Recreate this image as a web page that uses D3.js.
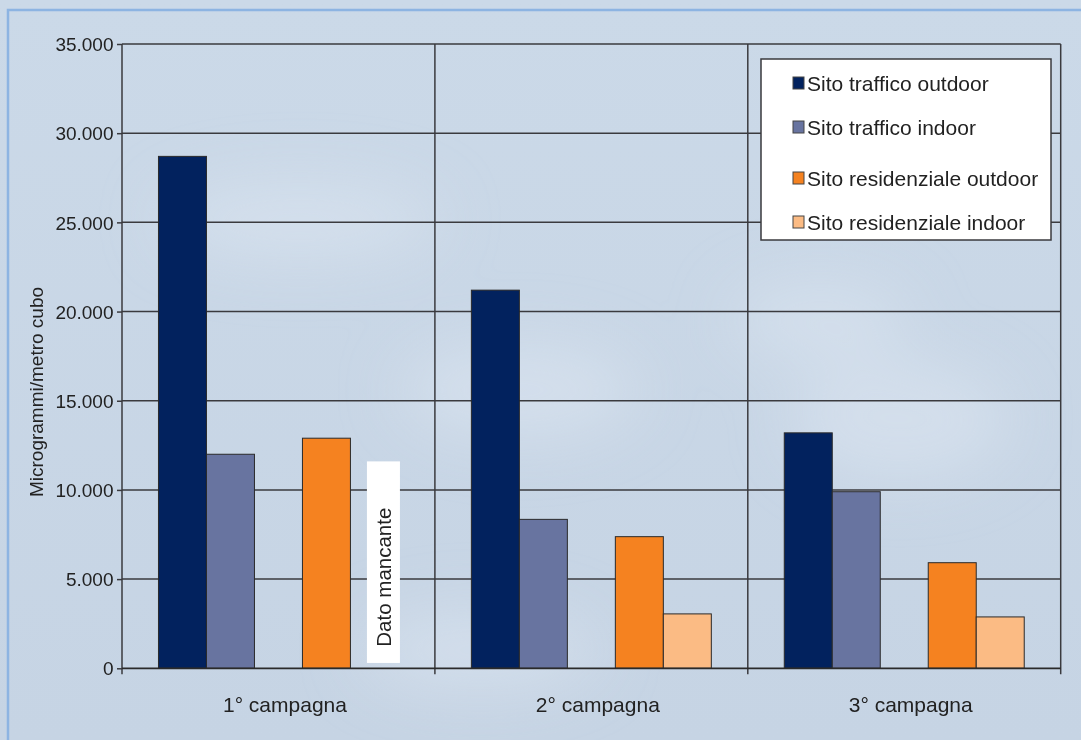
<!DOCTYPE html>
<html>
<head>
<meta charset="utf-8">
<script src="https://cdn.jsdelivr.net/npm/d3@7"></script>
<style>
  html, body { margin: 0; padding: 0; background: #c8d6e6; }
  svg { display: block; font-family: "Liberation Sans", Arial, sans-serif; }
</style>
</head>
<body>
<svg id="chart" width="1081" height="740"></svg>
<script>
// ---- data ----
const categories = ["1° campagna", "2° campagna", "3° campagna"];
const seriesNames = ["Sito traffico outdoor", "Sito traffico indoor", "Sito residenziale outdoor", "Sito residenziale indoor"];
const seriesColors = ["#02225e", "#6874a0", "#f58220", "#fbbb84"];
const trafficoOutdoor = [28700, 21200, 13200];
const trafficoIndoor = [12000, 8350, 9900];
const residenzialeOutdoor = [12900, 7380, 5920];
const residenzialeIndoor = [null, 3050, 2880];
const seriesValues = [trafficoOutdoor, trafficoIndoor, residenzialeOutdoor, residenzialeIndoor];
// slots within a group: an empty slot separates traffic and residential sites
const slots = ["s0", "s1", "gap", "s2", "s3"];
const seriesSlot = ["s0", "s1", "s2", "s3"];
const yTicks = [0, 5000, 10000, 15000, 20000, 25000, 30000, 35000];
const yLabel = "Microgrammi/metro cubo";
const missingLabel = "Dato mancante";

const svg = d3.select("#chart");
const W = 1081, H = 740;
const plot = { left: 122, right: 1060.7, top: 44, bottom: 668.3 };

// ---- background (sky) ----
const defs = svg.append("defs");
const bg = defs.append("linearGradient").attr("id", "bg").attr("x1", 0).attr("y1", 0).attr("x2", 0).attr("y2", 1);
bg.append("stop").attr("offset", "0%").attr("stop-color", "#cbd9e8");
bg.append("stop").attr("offset", "100%").attr("stop-color", "#c6d4e4");
const blur = defs.append("filter").attr("id", "blur").attr("x", "-50%").attr("y", "-50%").attr("width", "200%").attr("height", "200%");
blur.append("feGaussianBlur").attr("stdDeviation", 30);
svg.append("rect").attr("width", W).attr("height", H).attr("fill", "url(#bg)");
const clouds = [[520, 390, 120, 50], [900, 420, 110, 60], [300, 220, 140, 40], [820, 320, 90, 40], [480, 650, 120, 40]];
svg.append("g").attr("filter", "url(#blur)").selectAll("ellipse").data(clouds).join("ellipse")
  .attr("cx", d => d[0]).attr("cy", d => d[1]).attr("rx", d => d[2]).attr("ry", d => d[3])
  .attr("fill", "#dbe5f0").attr("opacity", 0.6);

// frame border
svg.append("path").attr("d", `M8,${H + 5} V10 H${W + 5}`).attr("fill", "none")
  .attr("stroke", "#8db4e2").attr("stroke-width", 2.5);

// ---- scales ----
const x0 = d3.scaleBand().domain(categories).range([plot.left, plot.right]).padding(0);
const x1 = d3.scaleBand().domain(slots).range([0, x0.bandwidth()]).paddingInner(0).paddingOuter(0.76);
const y = d3.scaleLinear().domain([0, 35000]).range([plot.bottom, plot.top]);

const fmt = v => v === 0 ? "0" : d3.format(",")(v).replace(/,/g, ".");

// horizontal gridlines
svg.append("g").selectAll("line").data(yTicks.filter(t => t > 0)).join("line")
  .attr("x1", plot.left).attr("x2", plot.right)
  .attr("y1", d => y(d)).attr("y2", d => y(d))
  .attr("stroke", "#3a3a3e").attr("stroke-width", 1.5);

// vertical gridlines at category boundaries
const bounds = categories.map(c => x0(c)).concat([plot.right]);
svg.append("g").selectAll("line").data(bounds.slice(1)).join("line")
  .attr("x1", d => d).attr("x2", d => d)
  .attr("y1", plot.top).attr("y2", plot.bottom + 6)
  .attr("stroke", "#3a3a3e").attr("stroke-width", 1.5);

// ---- bars ----
const barData = [];
categories.forEach((c, ci) => {
  seriesValues.forEach((vals, si) => {
    if (vals[ci] != null) barData.push({ c, si, v: vals[ci] });
  });
});
svg.append("g").selectAll("rect").data(barData).join("rect")
  .attr("x", d => x0(d.c) + x1(seriesSlot[d.si]))
  .attr("width", x1.bandwidth())
  .attr("y", d => y(d.v))
  .attr("height", d => y(0) - y(d.v))
  .attr("fill", d => seriesColors[d.si])
  .attr("stroke", "#2a2a2a").attr("stroke-width", 1);

// missing data annotation
const mx = x0(categories[0]) + x1("s3") + x1.bandwidth() / 2 + 9;
const missG = svg.append("g");
missG.append("rect").attr("x", mx - 16.5).attr("width", 33)
  .attr("y", y(11600)).attr("height", y(300) - y(11600)).attr("fill", "#ffffff");
missG.append("text")
  .attr("transform", `translate(${mx + 7.5},${(y(11600) + y(300)) / 2 + 15}) rotate(-90)`)
  .attr("text-anchor", "middle").attr("font-size", 20.5).attr("fill", "#222")
  .text(missingLabel);

// ---- axes ----
const yAxis = d3.axisLeft(y).tickValues(yTicks).tickFormat(fmt).tickSize(5).tickPadding(3.5);
const gy = svg.append("g").attr("transform", `translate(${plot.left},0)`).call(yAxis);
gy.select(".domain").remove();
gy.selectAll(".tick line").attr("stroke", "#3a3a3e").attr("stroke-width", 1.5);
gy.selectAll(".tick text").attr("font-size", 19).attr("fill", "#222")
  .attr("font-family", "Liberation Sans, Arial, sans-serif").attr("dy", "0.35em");
svg.append("line").attr("x1", plot.left).attr("x2", plot.left)
  .attr("y1", plot.top).attr("y2", plot.bottom + 6).attr("stroke", "#3a3a3e").attr("stroke-width", 1.5);

// x axis baseline
svg.append("line").attr("x1", plot.left).attr("x2", plot.right)
  .attr("y1", plot.bottom).attr("y2", plot.bottom).attr("stroke", "#2a2a2a").attr("stroke-width", 1.8);

// category labels
svg.append("g").selectAll("text").data(categories).join("text")
  .attr("x", d => x0(d) + x0.bandwidth() / 2 + 6.5)
  .attr("y", 712)
  .attr("text-anchor", "middle").attr("font-size", 21).attr("fill", "#222")
  .text(d => d);

// y label
svg.append("text")
  .attr("transform", `translate(43,392) rotate(-90)`)
  .attr("text-anchor", "middle").attr("font-size", 19).attr("fill", "#222")
  .text(yLabel);

// ---- legend ----
const lg = svg.append("g").attr("transform", "translate(761,59)");
lg.append("rect").attr("width", 290).attr("height", 181)
  .attr("fill", "#ffffff").attr("stroke", "#3a3a3e").attr("stroke-width", 1.5);
const rowY = [24, 68, 119, 163];
const items = lg.selectAll("g.item").data(seriesNames).join("g").attr("class", "item")
  .attr("transform", (d, i) => `translate(32,${rowY[i]})`);
items.append("rect").attr("x", 0).attr("y", -6).attr("width", 11).attr("height", 12)
  .attr("fill", (d, i) => seriesColors[i]).attr("stroke", "#444").attr("stroke-width", 1);
items.append("text").attr("x", 14).attr("y", 0).attr("dy", "0.36em")
  .attr("font-size", 21).attr("fill", "#222").text(d => d);
</script>
</body>
</html>
